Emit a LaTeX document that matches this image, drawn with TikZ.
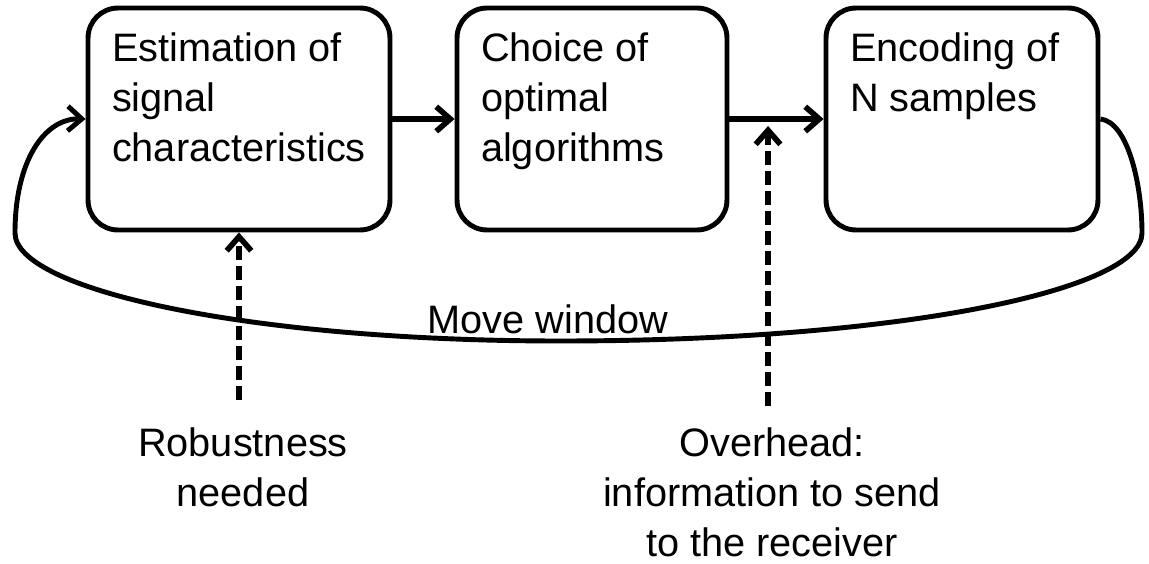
\documentclass[tikz,border=0pt]{standalone}
\usepackage{fontspec}
\setmainfont{Liberation Sans}
\usetikzlibrary{arrows.meta,calc}

\begin{document}
\begin{tikzpicture}[x=0.02cm,y=-0.02cm,line width=2.8pt,
    stepbox/.style={draw, rounded corners=0.6cm, minimum height=4.44cm},
    txt/.style={font=\fontsize{22.6}{28.45}\selectfont, align=left, anchor=north west, inner sep=0pt},
    note/.style={font=\fontsize{22.6}{28.45}\selectfont, align=center, anchor=north, inner sep=0pt},
    flow/.style={line width=3.2pt, -{Straight Barb[length=8pt,width=14pt]}},
    hint/.style={flow, dash pattern=on 8pt off 3.4pt}]
\useasboundingbox (0,0) rectangle (1149,564);

% ---- the three stages
\node[stepbox, minimum width=6.04cm] (est) at (239,119) {};
\node[stepbox, minimum width=5.40cm] (choice) at (592,119) {};
\node[stepbox, minimum width=5.44cm] (enc) at (962,119) {};
\node[txt] (esttxt) at ([shift={(24,25)}]est.north west) {Estimation of\\signal\\characteristics};
\node[txt] (choicetxt) at ([shift={(24,25)}]choice.north west) {Choice of\\optimal\\algorithms};
\node[txt] (enctxt) at ([shift={(24,25)}]enc.north west) {Encoding of\\N samples};

\draw[flow] (est) -- (choice);
\draw[flow] (choice) -- (enc);
\coordinate (mid) at ($(choice.east)!0.41!(enc.west)$);

% ---- loop back
\draw[flow, line width=2.8pt] (enc.east) .. controls (1128,122) and (1142,185) .. (1142,233)
  .. controls (1142,290) and (900,341) .. (560,341)
  .. controls (250,341) and (15,290) .. (15,233)
  .. controls (15,160) and (45,118) .. (est.west);
\node[font=\fontsize{22.6}{28.45}\selectfont, anchor=base, inner sep=0pt] (mv) at (548,333) {Move window};

% ---- side conditions
\node[note] (robust) at (243,425) {Robustness\\needed};
\node[note] (over) at (772,425) {Overhead:\\information to send\\to the receiver};
\draw[hint, shorten <=14pt] (est.south |- robust.north) -- (est.south);
\draw[hint, shorten <=11pt] (mid |- over.north) -- ([yshift=-0.14cm]mid);
\end{tikzpicture}
\end{document}
